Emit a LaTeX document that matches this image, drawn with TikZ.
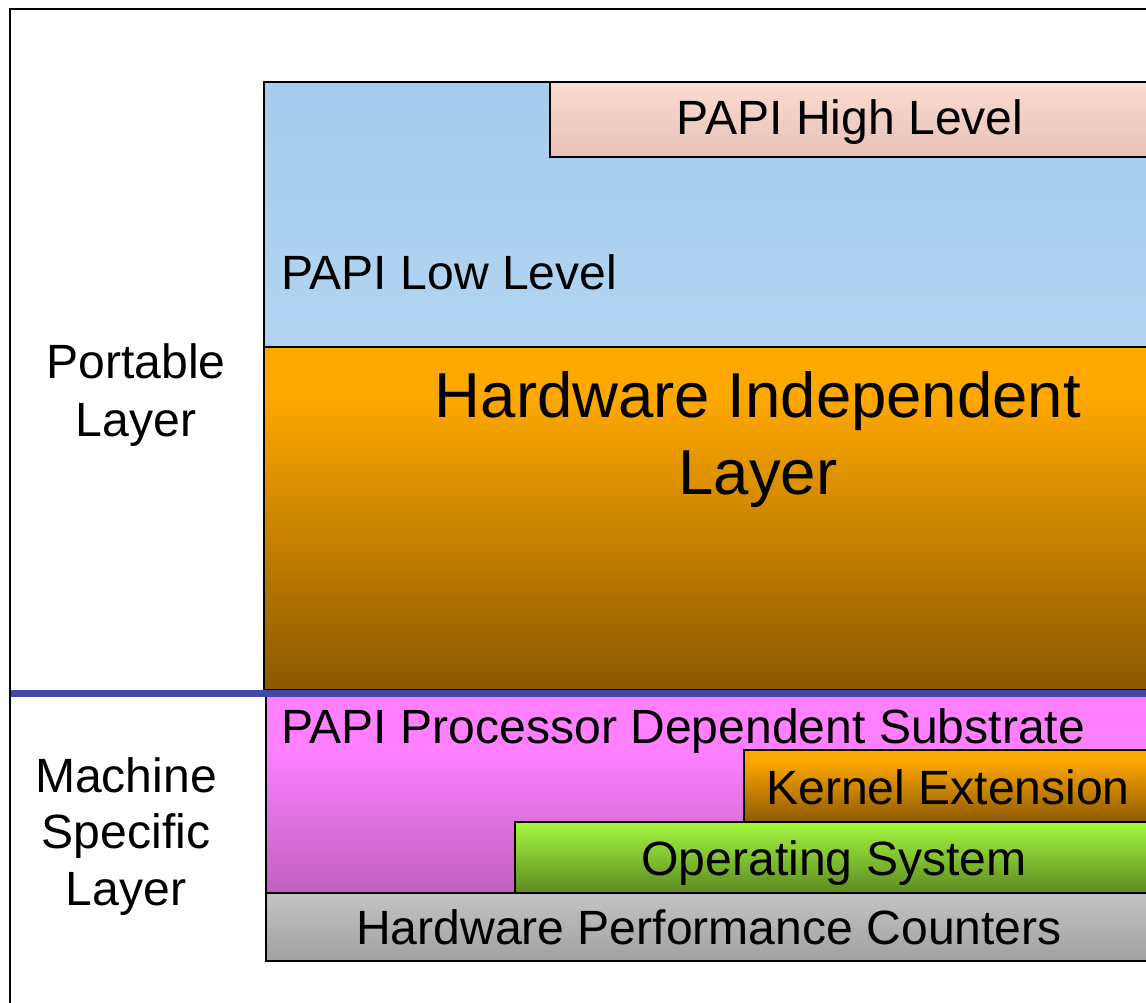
\documentclass[tikz,border=0pt]{standalone}
\usepackage{fontspec}
\setmainfont{Liberation Sans}
\definecolor{bluetop}{HTML}{A6CDEE}
\definecolor{bluebot}{HTML}{B2D4F1}
\definecolor{hightop}{HTML}{FCDBD0}
\definecolor{highbot}{HTML}{E6C2B5}
\definecolor{orangec}{HTML}{FFA800}
\definecolor{brownc}{HTML}{8A5800}
\definecolor{pinktop}{HTML}{FF80FF}
\definecolor{pinkbot}{HTML}{C060C0}
\definecolor{greentop}{HTML}{A6F840}
\definecolor{greenbot}{HTML}{5C8A20}
\definecolor{greytop}{HTML}{C4C4C4}
\definecolor{greybot}{HTML}{A0A0A0}
\definecolor{sepblue}{HTML}{4149A6}
\pgfdeclareverticalshading{orangesh}{100bp}{color(0bp)=(brownc); color(25bp)=(brownc); color(68bp)=(orangec); color(100bp)=(orangec)}
\pgfdeclareverticalshading{pinksh}{100bp}{color(0bp)=(pinkbot); color(25bp)=(pinkbot); color(61bp)=(pinktop); color(100bp)=(pinktop)}
\begin{document}
\begin{tikzpicture}[x=1pt,y=-1pt,
  layerbox/.style={draw=black,line width=2.2pt},
  small/.style={inner sep=0pt,font=\fontsize{48.1}{57}\selectfont},
  big/.style={inner sep=0pt,font=\fontsize{63.5}{75}\selectfont}]
\useasboundingbox (0,0) rectangle (1146,1003);
\clip (0,0) rectangle (1146,1003);
\fill[white] (0,0) rectangle (1146,1003);
% outer frame
\draw[line width=2pt] (10,1010) -- (10,9) -- (1160,9);
% portable layer boxes
\path[layerbox,top color=bluetop,bottom color=bluebot] (264,82) rectangle (1160,347);
\path[layerbox,top color=hightop,bottom color=highbot] (550,82) rectangle (1160,157);
\path[layerbox,shading=orangesh] (264,347) rectangle (1160,690);
% machine specific boxes
\path[layerbox,shading=pinksh] (266,693) rectangle (1160,893);
\path[layerbox,shading=orangesh] (744,750) rectangle (1160,823);
\path[layerbox,top color=greentop,bottom color=greenbot] (515,822) rectangle (1160,893);
\path[layerbox,top color=greytop,bottom color=greybot] (266,893) rectangle (1160,961);
% separator
\draw[sepblue,line width=7pt] (11,693) -- (1160,693);
% texts
\node[small,anchor=base] (high) at (850,135) {PAPI High Level};
\node[small,anchor=base west] (low) at (281,289) {PAPI Low Level};
\node[small,anchor=base] (portA) at (136,378) {Portable};
\node[small,anchor=base] (portB) at (136,436) {Layer};
\node[big,anchor=base] (hwiA) at (758,417) {Hardware Independent};
\node[big,anchor=base] (hwiB) at (758,494) {Layer};
\node[small,anchor=base] (machA) at (126,792) {Machine};
\node[small,anchor=base] (machB) at (126,848) {Specific};
\node[small,anchor=base] (machC) at (126,905) {Layer};
\node[small,anchor=base west] (subst) at (281,743) {PAPI Processor Dependent Substrate};
\node[small,anchor=base] (kern) at (948,804) {Kernel Extension};
\node[small,anchor=base] (os) at (834,875) {Operating System};
\node[small,anchor=base] (hpc) at (709,944) {Hardware Performance Counters};
\end{tikzpicture}
\end{document}
